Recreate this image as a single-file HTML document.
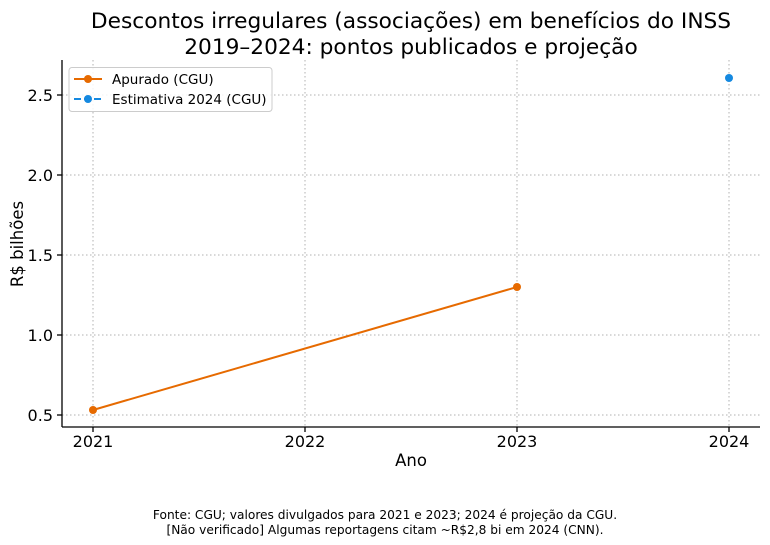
<!DOCTYPE html>
<html><head><meta charset="utf-8"><style>
html,body{margin:0;padding:0;background:#fff;}
svg{display:block;font-family:"DejaVu Sans","Liberation Sans",sans-serif;}
</style></head><body>
<svg width="770" height="545" viewBox="0 0 770 545" xmlns="http://www.w3.org/2000/svg">
<rect width="770" height="545" fill="#fff"/>
<text x="411" y="28" font-size="21.7" text-anchor="middle" fill="#000">Descontos irregulares (associações) em benefícios do INSS</text>
<text x="411" y="54" font-size="21.7" text-anchor="middle" fill="#000">2019–2024: pontos publicados e projeção</text>
<g stroke="#b0b0b0" stroke-width="1" stroke-dasharray="1.5,2.5">
<line x1="93" y1="60" x2="93" y2="427"/><line x1="305" y1="60" x2="305" y2="427"/>
<line x1="517" y1="60" x2="517" y2="427"/><line x1="729" y1="60" x2="729" y2="427"/>
<line x1="62" y1="95" x2="760" y2="95"/><line x1="62" y1="175" x2="760" y2="175"/>
<line x1="62" y1="255" x2="760" y2="255"/><line x1="62" y1="335" x2="760" y2="335"/>
<line x1="62" y1="415" x2="760" y2="415"/>
</g>
<g stroke="#000" stroke-width="1.3">
<line x1="62" y1="60" x2="62" y2="427"/><line x1="62" y1="427" x2="760" y2="427"/>
<line x1="57" y1="95" x2="62" y2="95"/><line x1="57" y1="175" x2="62" y2="175"/>
<line x1="57" y1="255" x2="62" y2="255"/><line x1="57" y1="335" x2="62" y2="335"/>
<line x1="57" y1="415" x2="62" y2="415"/>
<line x1="93" y1="427" x2="93" y2="432"/><line x1="305" y1="427" x2="305" y2="432"/>
<line x1="517" y1="427" x2="517" y2="432"/><line x1="729" y1="427" x2="729" y2="432"/>
</g>
<g font-size="16" fill="#000" text-anchor="end">
<text x="53" y="101">2.5</text><text x="53" y="181">2.0</text><text x="53" y="261">1.5</text>
<text x="53" y="341">1.0</text><text x="53" y="421">0.5</text>
</g>
<g font-size="16" fill="#000" text-anchor="middle">
<text x="93" y="447">2021</text><text x="305" y="447">2022</text>
<text x="517" y="447">2023</text><text x="729" y="447">2024</text>
<text x="411" y="466" font-size="16.5">Ano</text>
</g>
<text transform="translate(23,244) rotate(-90)" font-size="16.5" text-anchor="middle">R$ bilhões</text>
<line x1="93" y1="410" x2="517" y2="287" stroke="#e66a00" stroke-width="2"/>
<circle cx="93" cy="410" r="4" fill="#e66a00"/><circle cx="517" cy="287" r="4" fill="#e66a00"/>
<circle cx="729" cy="78" r="4" fill="#1589e0"/>
<rect x="69" y="67.5" width="203" height="44" rx="3" fill="#fff" fill-opacity="0.85" stroke="#ccc"/>
<line x1="74" y1="79" x2="102" y2="79" stroke="#e66a00" stroke-width="2"/><circle cx="88" cy="79" r="4" fill="#e66a00"/>
<line x1="74" y1="99" x2="102" y2="99" stroke="#1589e0" stroke-width="2" stroke-dasharray="7,3"/><circle cx="88" cy="99" r="4" fill="#1589e0"/>
<text x="112" y="84" font-size="13.5">Apurado (CGU)</text>
<text x="112" y="104" font-size="13.5">Estimativa 2024 (CGU)</text>
<text x="385" y="519" font-size="12.2" text-anchor="middle">Fonte: CGU; valores divulgados para 2021 e 2023; 2024 é projeção da CGU.</text>
<text x="385" y="534" font-size="12.2" text-anchor="middle">[Não verificado] Algumas reportagens citam ~R$2,8 bi em 2024 (CNN).</text>
</svg>
</body></html>
